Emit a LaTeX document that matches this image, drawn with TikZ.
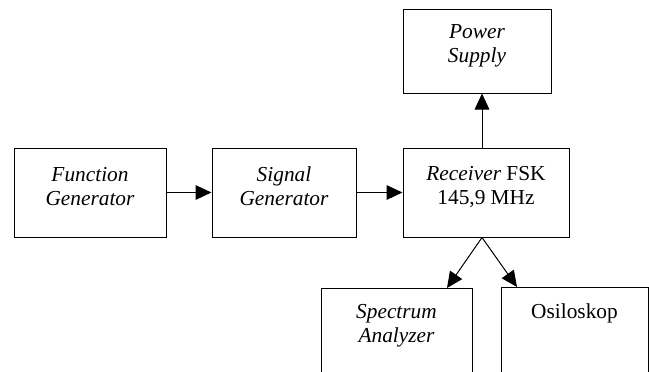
\documentclass[tikz,border=0pt]{standalone}
\usepackage{fontspec}
\setmainfont{Liberation Serif}
\usetikzlibrary{arrows.meta}
\begin{document}
\begin{tikzpicture}[x=0.75pt,y=-0.75pt]
        \tikzstyle{box}=[draw, rectangle, line width=0.75pt, inner sep=0pt]
        \tikzstyle{txt}=[align=center, inner sep=0pt, font=\fontsize{16}{18}\selectfont]
        \tikzstyle{arr}=[-{Triangle[length=12pt, width=11pt]}, line width=0.75pt]
        \useasboundingbox (0,0) rectangle (649,371);
        \clip (0,0) rectangle (649,371);

        \path (90, 192.5) node[box, minimum width=114pt, minimum height=66.75pt] (func) {};
        \path (284, 192.5) node[box, minimum width=108pt, minimum height=66.75pt] (sig) {};
        \path (486, 192.5) node[box, minimum width=124.5pt, minimum height=66.75pt] (recv) {};
        \path (477, 51) node[box, minimum width=111pt, minimum height=63pt] (pwr) {};
        \path (396.5, 359) node[box, minimum width=113.25pt, minimum height=106.5pt] (spec) {};
        \path (574.5, 358.5) node[box, minimum width=110.25pt, minimum height=107.25pt] (osc) {};

        \path (90, 186.5) node[txt] (funct) {\textit{Function}\\\textit{Generator}};
        \path (284, 186.5) node[txt] (sigt) {\textit{Signal}\\\textit{Generator}};
        \path (486, 187.5) node[txt] (recvt) {\textit{Receiver} FSK\\145,9 MHz};
        \path (477, 45.5) node[txt] (pwrt) {\textit{Power}\\\textit{Supply}};
        \path (396.5, 326) node[txt] (spect) {\textit{Spectrum}\\\textit{Analyzer}};
        \path (574.5, 313.5) node[txt] (osct) {Osiloskop};

        \coordinate (tap) at (482, 0);
        \coordinate (specin) at (447, 288);
        \coordinate (oscin) at (517, 287);

        \draw [arr] (func) -- (sig);
        \draw [arr] (sig) -- (recv);
        \draw [arr] (recv.north -| tap) -- (pwr.south -| tap);
        \draw [arr] (recv.south -| tap) -- (specin);
        \draw [arr] (recv.south -| tap) -- (oscin);
      \end{tikzpicture}
\end{document}
